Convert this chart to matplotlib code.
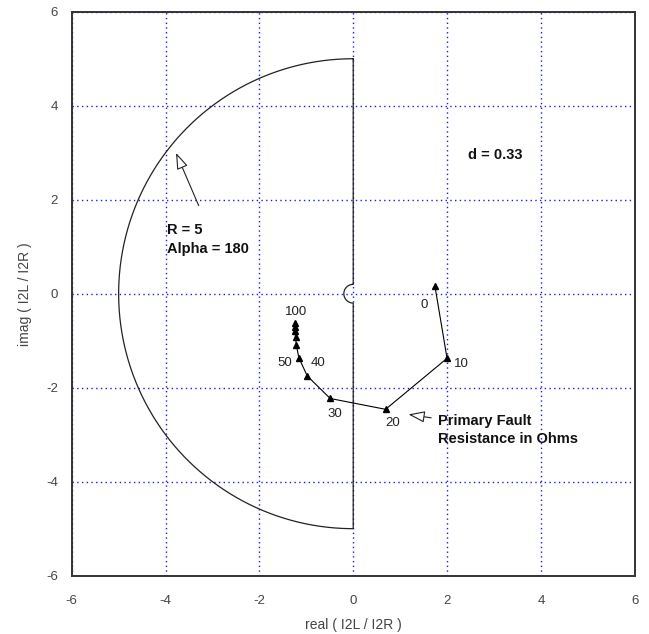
import numpy as np
import matplotlib
matplotlib.use("Agg")
import matplotlib.pyplot as plt

plt.rcParams['font.family'] = ['Liberation Sans', 'DejaVu Sans']
plt.rcParams['axes.unicode_minus'] = False

# restraint region: half circle of radius R with a small notch at the origin
R = 5.0
notch_r = 0.2

# locus of I2L/I2R as the primary fault resistance grows
fault_res = [0, 10, 20, 30, 40, 50, 60, 70, 80, 90, 100]
locus_re = [1.74, 2.00, 0.69, -0.49, -0.98, -1.16, -1.21, -1.23, -1.24, -1.24, -1.24]
locus_im = [0.17, -1.375, -2.46, -2.23, -1.75, -1.36, -1.10, -0.93, -0.80, -0.70, -0.62]

# which points carry a resistance label and where the label sits (offset points)
label_offsets = {0: (-8, -14), 10: (10, -4), 20: (5, -10), 30: (3, -11),
                 40: (8, 9), 50: (-10, -4), 100: (1, 8)}

ticks = [-6, -4, -2, 0, 2, 4, 6]


def boundary():
    th = np.linspace(np.pi / 2, 3 * np.pi / 2, 200)
    xs = list(R * np.cos(th))
    ys = list(R * np.sin(th))
    # back up the right edge, skirting the origin
    xs += [0, 0]
    ys += [-R, -notch_r]
    ph = np.linspace(-np.pi / 2, -3 * np.pi / 2, 50)
    xs += list(notch_r * np.cos(ph))
    ys += list(notch_r * np.sin(ph))
    xs += [0, 0]
    ys += [notch_r, R]
    return xs, ys


fig = plt.figure(figsize=(6.49, 6.34), dpi=100)
ax = fig.add_axes([0.1105, 0.092, 0.8675, 0.8895])

ax.set_xlim(-6, 6)
ax.set_ylim(-6, 6)
ax.set_xticks(ticks)
ax.set_yticks(ticks)
ax.grid(True, color='#1a1aee', linestyle=(0, (1, 2.4)), linewidth=1.0)
ax.tick_params(length=0, labelsize=9.5, labelcolor='#444444')
ax.tick_params(axis='x', pad=14)
ax.tick_params(axis='y', pad=10)
for s in ax.spines.values():
    s.set_color('#333333')
    s.set_linewidth(1.4)

bx, by = boundary()
ax.plot(bx, by, color='#222222', linewidth=0.9)

ax.plot(locus_re, locus_im, color='black', linewidth=0.8,
        marker='^', markersize=5)

for i, r in enumerate(fault_res):
    if r in label_offsets:
        ax.annotate(str(r), (locus_re[i], locus_im[i]),
                    xytext=label_offsets[r], textcoords='offset points',
                    ha='center', va='center', fontsize=9.5, color='#222222')

head = '-|>,head_length=1.0,head_width=0.35'
ax.annotate('', xy=(-3.80, 3.05), xytext=(-3.27, 1.82),
            arrowprops=dict(arrowstyle=head, fc='white', ec='#222222', lw=0.8))
ax.text(-3.96, 1.5, 'R = 5\nAlpha = 180', ha='left', va='top',
        fontsize=10.5, fontweight='bold', color='#111111', linespacing=1.4)

ax.text(3.02, 2.95, 'd = 0.33', ha='center', va='center',
        fontsize=10.5, fontweight='bold', color='#111111')

ax.annotate('', xy=(1.12, -2.56), xytext=(1.72, -2.65),
            arrowprops=dict(arrowstyle=head, fc='white', ec='#222222', lw=0.8))
ax.text(1.81, -2.55, 'Primary Fault\nResistance in Ohms', ha='left', va='top',
        fontsize=10.5, fontweight='bold', color='#111111', linespacing=1.4)

ax.set_xlabel('real ( I2L / I2R )', fontsize=10, color='#444444', labelpad=8)
ax.set_ylabel('imag ( I2L / I2R )', fontsize=10, color='#444444', labelpad=10)

fig.savefig('out.png', dpi=100)
